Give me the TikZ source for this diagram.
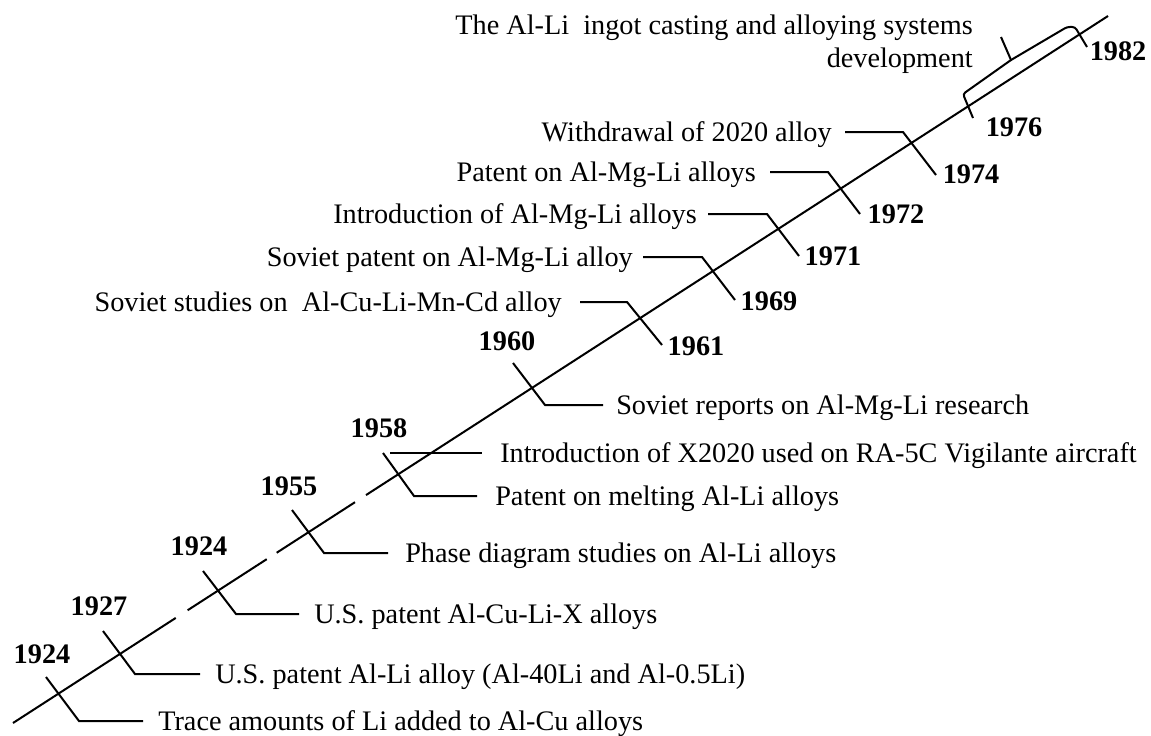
\documentclass[tikz,border=0pt]{standalone}
\usepackage{fontspec}
\setmainfont{Liberation Serif}
\usetikzlibrary{calc}
\tikzset{
  tl/.style={line width=1.5pt, line cap=butt},
  lbl/.style={inner sep=0pt, font=\fontsize{21.2}{25}\selectfont},
  yr/.style={inner sep=0pt, font=\fontsize{21.2}{25}\selectfont\bfseries},
}
\begin{document}
\begin{tikzpicture}[x=0.75pt,y=-0.75pt]
\useasboundingbox (0,0) rectangle (1151,735);
% main time line with gaps
\coordinate (L0) at (13,723);
\coordinate (L1) at (1108,16);
\draw[tl] (L0) -- ($(L0)!0.1486!(L1)$);
\draw[tl] ($(L0)!0.1595!(L1)$) -- ($(L0)!0.2317!(L1)$);
\draw[tl] ($(L0)!0.2408!(L1)$) -- ($(L0)!0.3123!(L1)$);
\draw[tl] ($(L0)!0.3224!(L1)$) -- (L1);

% ---- lower labels ----
% 1924 (a)
\coordinate (a1) at (46,677); \coordinate (a2) at (79,721); \coordinate (a3) at (143,721);
\node[yr] (ya) at (42,654) {1924};
\node[lbl,anchor=base west] (ta) at (158,730.5) {Trace amounts of Li added to Al-Cu alloys};
\draw[tl] (a1) -- (a2) -- (a3);
% 1927 (b)
\coordinate (b1) at (103,631); \coordinate (b2) at (135,674); \coordinate (b3) at (200,674);
\node[yr] (yb) at (99,606) {1927};
\node[lbl,anchor=base west] (tb) at (215,683.5) {U.S. patent Al-Li alloy (Al-40Li and Al-0.5Li)};
\draw[tl] (b1) -- (b2) -- (b3);
% 1924 (c)
\coordinate (c1) at (203,571); \coordinate (c2) at (236,614); \coordinate (c3) at (299,614);
\node[yr] (yc) at (199,546) {1924};
\node[lbl,anchor=base west] (tc) at (314,623.5) {U.S. patent Al-Cu-Li-X alloys};
\draw[tl] (c1) -- (c2) -- (c3);
% 1955 (d)
\coordinate (d1) at (292,510); \coordinate (d2) at (324,553); \coordinate (d3) at (388,553);
\node[yr] (yd) at (289,486) {1955};
\node[lbl,anchor=base west] (td) at (405,562.5) {Phase diagram studies on Al-Li alloys};
\draw[tl] (d1) -- (d2) -- (d3);
% 1958 (e)
\coordinate (e1) at (383,453); \coordinate (e2) at (414,496); \coordinate (e3) at (477,496);
\coordinate (e4) at (390,453); \coordinate (e5) at (482,453);
\node[yr] (ye) at (379,428) {1958};
\node[lbl,anchor=base west] (te) at (495,505.5) {Patent on melting Al-Li alloys};
\node[lbl,anchor=base west] (te2) at (500,462.5) {Introduction of X2020 used on RA-5C Vigilante aircraft};
\draw[tl] (e1) -- (e2) -- (e3);
\draw[tl] (e4) -- (e5);
% 1960 (f)
\coordinate (f1) at (513,363); \coordinate (f2) at (545,405); \coordinate (f3) at (603,405);
\node[yr] (yf) at (507,341) {1960};
\node[lbl,anchor=base west] (tf) at (616,414.5) {Soviet reports on Al-Mg-Li research};
\draw[tl] (f1) -- (f2) -- (f3);

% ---- upper labels ----
% 1961 (g)
\coordinate (g1) at (580,302); \coordinate (g2) at (627,302); \coordinate (g3) at (662,345);
\node[yr] (yg) at (696,346) {1961};
\node[lbl,anchor=base east] (tg) at (562,311.5) {Soviet studies on\ \ Al-Cu-Li-Mn-Cd alloy};
\draw[tl] (g1) -- (g2) -- (g3);
% 1969 (h)
\coordinate (h1) at (643,257); \coordinate (h2) at (702,257); \coordinate (h3) at (735,300);
\node[yr] (yh) at (769,301) {1969};
\node[lbl,anchor=base east] (th) at (633,266.5) {Soviet patent on Al-Mg-Li alloy};
\draw[tl] (h1) -- (h2) -- (h3);
% 1971 (i)
\coordinate (i1) at (708,214); \coordinate (i2) at (767,214); \coordinate (i3) at (799,256);
\node[yr] (yi) at (833,256) {1971};
\node[lbl,anchor=base east] (ti) at (697,223.5) {Introduction of Al-Mg-Li alloys};
\draw[tl] (i1) -- (i2) -- (i3);
% 1972 (j)
\coordinate (j1) at (770,172); \coordinate (j2) at (828,172); \coordinate (j3) at (860,214);
\node[yr] (yj) at (896,214) {1972};
\node[lbl,anchor=base east] (tj) at (756,181.5) {Patent on Al-Mg-Li alloys};
\draw[tl] (j1) -- (j2) -- (j3);
% 1974 (k)
\coordinate (k1) at (845,132); \coordinate (k2) at (903,132); \coordinate (k3) at (936,175);
\node[yr] (yk) at (971,174) {1974};
\node[lbl,anchor=base east] (tk) at (832,141.5) {Withdrawal of 2020 alloy};
\draw[tl] (k1) -- (k2) -- (k3);

% ---- 1976-1982 brace ----
\coordinate (m1) at (973,118); \coordinate (m2) at (963,94);
\coordinate (m3) at (1011,60); \coordinate (m4) at (1001,37);
\coordinate (m5) at (1067,27); \coordinate (m6) at (1075,27); \coordinate (m7) at (1087,47);
\node[yr] (yl) at (1014,127) {1976};
\node[yr] (ym) at (1118,51) {1982};
\node[lbl,anchor=base east] (tl1) at (973,35) {The Al-Li\ \ ingot casting and alloying systems};
\node[lbl,anchor=base east] (tl2) at (973,67) {development};
\draw[tl, rounded corners=2pt] (m1) -- (m2) -- (m3) -- (m5) -- (m6) -- (m7);
\draw[tl] (m3) -- (m4);
\end{tikzpicture}
\end{document}
